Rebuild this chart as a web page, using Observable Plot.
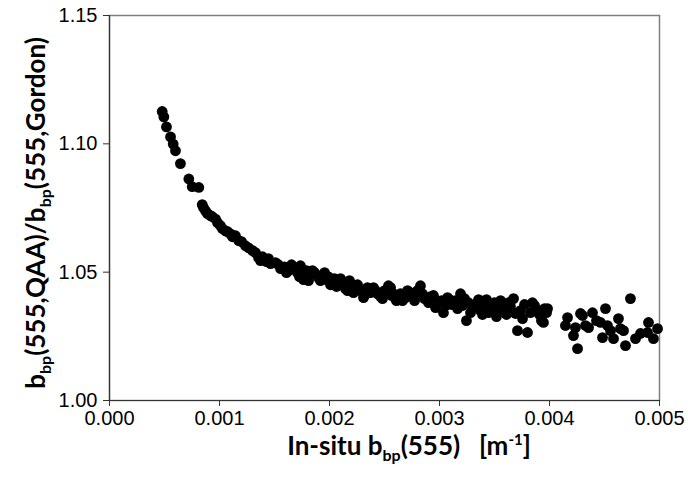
<!DOCTYPE html>
<html><head><meta charset="utf-8">
<script src="https://cdn.jsdelivr.net/npm/d3@7"></script>
<script src="https://cdn.jsdelivr.net/npm/@observablehq/plot@0.6"></script>
<style>body{margin:0;background:#fff}#chart{width:688px;height:484px}</style>
</head><body><div id="chart"></div>
<script>
// In-situ bbp(555) [m^-1]
const bbp = [
0.000479,0.000494,0.000518,0.000555,0.000579,0.000600,0.000645,0.000721,0.000752,0.000812,
0.000843,0.000855,0.000873,0.000891,0.000918,0.000936,0.000964,0.000982,0.001009,0.001027,
0.001055,0.001073,0.001100,0.001118,0.001145,0.001175,0.001200,0.001236,0.001264,0.001300,
0.001327,0.001355,0.001373,0.001391,0.001427,0.001445,0.001464,0.001509,0.001536,0.001555,
0.001591,0.001609,0.001627,0.001655,0.001673,0.001709,0.001727,0.001736,0.001764,0.001791,
0.001809,0.001827,0.001845,0.001864,0.001900,0.001918,0.001936,0.001955,0.001973,0.001991,
0.002009,0.002045,0.002064,0.002082,0.002100,0.002127,0.002145,0.002164,0.002182,0.002200,
0.002218,0.002236,0.002255,0.002282,0.002309,0.002327,0.002345,0.002373,0.002400,0.002418,
0.002436,0.002464,0.002482,0.002500,0.002536,0.002564,0.002600,
0.002555,0.002582,0.002609,0.002645,0.002664,0.002691,0.002709,0.002736,0.002755,0.002773,
0.002800,0.002827,0.002845,0.002864,0.002900,0.002918,0.002945,0.002964,0.002982,0.003018,
0.003036,0.003055,0.003073,0.003091,0.003109,0.003145,0.003164,0.003191,0.003209,0.003227,
0.003245,0.003264,0.003282,0.003300,0.003336,0.003355,0.003373,0.003391,0.003409,0.003427,
0.003445,0.003464,0.003482,0.003500,0.003518,0.003536,0.003555,0.003573,0.003591,0.003609,
0.003627,0.003645,0.003673,0.003691,0.003709,0.003736,0.003755,0.003773,0.003800,0.003827,
0.003845,0.003864,0.003891,0.003909,0.003927,0.003945,0.003955,0.003973,0.003982,
0.004145,0.004164,0.004218,0.004236,0.004255,0.004282,0.004300,0.004327,0.004355,0.004391,
0.004427,0.004464,0.004482,0.004509,0.004527,0.004555,0.004582,0.004627,0.004645,0.004673,
0.004691,0.004736,0.004782,0.004827,0.004891,0.004900,0.004945,0.004982
];
// bbp(555,QAA)/bbp(555,Gordon)
const ratio = [
1.1126,1.1105,1.1066,1.1027,1.0999,1.0973,1.0923,1.0863,1.0833,1.0830,
1.0763,1.0751,1.0739,1.0728,1.0720,1.0716,1.0707,1.0693,1.0681,1.0669,
1.0661,1.0658,1.0649,1.0638,1.0642,1.0623,1.0619,1.0603,1.0595,1.0584,
1.0576,1.0556,1.0545,1.0560,1.0541,1.0553,1.0533,1.0537,1.0529,1.0514,
1.0521,1.0498,1.0506,1.0529,1.0514,1.0498,1.0482,1.0525,1.0471,1.0506,
1.0467,1.0490,1.0506,1.0498,1.0479,1.0467,1.0486,1.0498,1.0471,1.0482,
1.0451,1.0475,1.0444,1.0459,1.0475,1.0455,1.0436,1.0428,1.0467,1.0451,
1.0420,1.0436,1.0451,1.0428,1.0401,1.0413,1.0440,1.0420,1.0440,1.0428,
1.0416,1.0405,1.0397,1.0428,1.0447,1.0409,1.0397,
1.0440,1.0416,1.0389,1.0416,1.0389,1.0401,1.0428,1.0420,1.0405,1.0389,
1.0428,1.0447,1.0416,1.0397,1.0381,1.0405,1.0409,1.0362,1.0377,1.0389,
1.0342,1.0370,1.0401,1.0393,1.0374,1.0389,1.0358,1.0416,1.0370,1.0397,
1.0311,1.0381,1.0342,1.0362,1.0377,1.0393,1.0350,1.0335,1.0374,1.0393,
1.0342,1.0366,1.0350,1.0381,1.0327,1.0354,1.0389,1.0374,1.0358,1.0335,
1.0381,1.0366,1.0397,1.0339,1.0272,1.0350,1.0319,1.0374,1.0265,1.0342,
1.0381,1.0370,1.0350,1.0335,1.0311,1.0304,1.0358,1.0342,1.0358,
1.0292,1.0323,1.0253,1.0284,1.0202,1.0339,1.0331,1.0292,1.0284,1.0342,
1.0311,1.0304,1.0245,1.0358,1.0292,1.0272,1.0241,1.0319,1.0280,1.0272,
1.0214,1.0397,1.0241,1.0261,1.0265,1.0304,1.0241,1.0280
];
const xTicks = [0, 0.001, 0.002, 0.003, 0.004, 0.005];
const yTicks = [1.00, 1.05, 1.10, 1.15];

const data = bbp.map((x, i) => ({x, y: ratio[i]}));

const plot = Plot.plot({
  width: 688, height: 484,
  marginLeft: 109, marginRight: 29, marginTop: 15, marginBottom: 84,
  style: {fontFamily: "'Liberation Sans', Arial, sans-serif", fontSize: "20px", color: "#000", background: "#fff"},
  x: {domain: [0, 0.005], label: null},
  y: {domain: [1, 1.15], label: null},
  marks: [
    Plot.frame({stroke: "#7f7f7f", strokeWidth: 1.5}),
    Plot.dot(data, {x: "x", y: "y", r: 5.4, fill: "#000", stroke: null}),
    Plot.axisX({ticks: xTicks, tickFormat: d3.format(".3f"), tickSize: 6, tickPadding: 4, fontSize: 20, stroke: "#333", label: null}),
    Plot.axisY({ticks: yTicks, tickFormat: d3.format(".2f"), tickSize: 6, tickPadding: 6, fontSize: 20, stroke: "#333", label: null}),
    Plot.ruleX([0], {stroke: "#333", strokeWidth: 1.2}),
    Plot.ruleY([1], {stroke: "#333", strokeWidth: 1.2})
  ]
});
document.getElementById("chart").appendChild(plot);

const svg = d3.select(plot);
const titleFont = "Lato, 'Open Sans', sans-serif";
// y title
const yt = svg.append("text")
  .attr("transform", "translate(45,213) rotate(-90)")
  .attr("text-anchor", "middle")
  .attr("font-family", titleFont).attr("font-weight", "bold").attr("font-size", 26).attr("fill", "#000");
yt.append("tspan").text("b");
yt.append("tspan").attr("font-size", 16).attr("dy", 6).text("bp");
yt.append("tspan").attr("dy", -6).text("(555,QAA)/b");
yt.append("tspan").attr("font-size", 16).attr("dy", 6).text("bp");
yt.append("tspan").attr("dy", -6).text("(555,Gordon)");
// x title
const xt = svg.append("text")
  .attr("x", 409).attr("y", 455)
  .attr("text-anchor", "middle")
  .attr("font-family", titleFont).attr("font-weight", "bold").attr("font-size", 26).attr("fill", "#000");
xt.append("tspan").text("In-situ b");
xt.append("tspan").attr("font-size", 16).attr("dy", 6).text("bp");
xt.append("tspan").attr("dy", -6).text("(555)\u00a0\u00a0\u00a0[m");
xt.append("tspan").attr("font-size", 15).attr("dy", -10).text("-1");
xt.append("tspan").attr("dy", 10).text("]");
</script>
</body></html>
